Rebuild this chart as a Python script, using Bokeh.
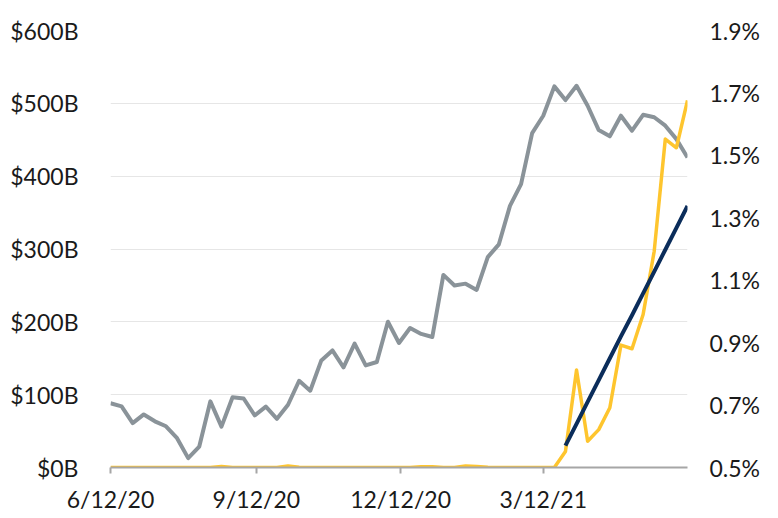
import pandas as pd
from bokeh.plotting import figure
from bokeh.models import Range1d, LinearAxis, FixedTicker, ColumnDataSource
from bokeh.embed import file_html
from bokeh.resources import INLINE

# ---- data ----
dates = list(pd.date_range("2020-06-12", periods=53, freq="7D"))

yield_pct = [0.706, 0.696, 0.642, 0.670, 0.648, 0.632, 0.594, 0.530, 0.567, 0.712,
             0.631, 0.725, 0.721, 0.667, 0.695, 0.656, 0.701, 0.778, 0.746, 0.843,
             0.875, 0.821, 0.897, 0.827, 0.838, 0.967, 0.899, 0.947, 0.928, 0.918,
             1.117, 1.083, 1.089, 1.069, 1.174, 1.215, 1.338, 1.408, 1.571, 1.627,
             1.721, 1.677, 1.723, 1.659, 1.581, 1.561, 1.627, 1.579, 1.630, 1.622,
             1.595, 1.552, 1.493]

rrp_bn = [0, 0, 0, 0, 0, 0, 0, 0, 0, 0,
          1.5, 0, 0, 0, 0, 0, 2, 0.5, 0, 0,
          0, 0, 0, 0, 0, 0, 0, 0, 1, 1,
          0, 0, 2, 1.5, 0.5, 0, 0, 0, 0, 0,
          0, 22, 134, 36, 52, 82, 168, 163, 210, 297,
          451, 439, 504]

trend_dates = dates[41:]
trend_bn = [30, 60, 90, 120, 150, 180, 209, 239, 269, 299, 329, 359]

left_ticks = [0, 100, 200, 300, 400, 500, 600]
left_labels = ["$0B", "$100B", "$200B", "$300B", "$400B", "$500B", "$600B"]
right_ticks = [0.5, 0.7, 0.9, 1.1, 1.3, 1.5, 1.7, 1.9]
right_labels = ["0.5%", "0.7%", "0.9%", "1.1%", "1.3%", "1.5%", "1.7%", "1.9%"]
x_tick_dates = ["2020-06-12", "2020-09-12", "2020-12-12", "2021-03-12"]
x_tick_labels = ["6/12/20", "9/12/20", "12/12/20", "3/12/21"]

# ---- figure ----
FONT = "Lato"
FS = "23px"
TXT = "#1a1a1a"

p = figure(width=770, height=515, x_axis_type="datetime",
           output_backend="svg", toolbar_location=None,
           x_range=Range1d(pd.Timestamp("2020-06-12"), pd.Timestamp("2021-06-11")),
           y_range=Range1d(0, 600),
           min_border_left=110, min_border_right=83,
           min_border_top=30, min_border_bottom=44)
p.outline_line_color = None
p.background_fill_color = "white"
p.extra_y_ranges = {"pct": Range1d(0.5, 1.9)}

# left axis
la = p.yaxis[0]
la.ticker = FixedTicker(ticks=left_ticks)
la.major_label_overrides = {t: l for t, l in zip(left_ticks, left_labels)}
la.axis_line_color = None
la.major_tick_line_color = None
la.minor_tick_line_color = None
la.major_tick_out = 0
la.major_tick_in = 0
la.major_label_standoff = 32
la.major_label_text_font = FONT
la.major_label_text_font_size = FS
la.major_label_text_color = TXT

# right axis
ra = LinearAxis(y_range_name="pct", ticker=FixedTicker(ticks=right_ticks))
ra.major_label_overrides = {t: l for t, l in zip(right_ticks, right_labels)}
ra.axis_line_color = None
ra.major_tick_line_color = None
ra.minor_tick_line_color = None
ra.major_tick_out = 0
ra.major_tick_in = 0
ra.major_label_standoff = 22
ra.major_label_text_font = FONT
ra.major_label_text_font_size = FS
ra.major_label_text_color = TXT
p.add_layout(ra, "right")

# bottom axis
xt = [pd.Timestamp(d).value / 1e6 for d in x_tick_dates]
xa = p.xaxis[0]
xa.ticker = FixedTicker(ticks=xt)
xa.major_label_overrides = {t: l for t, l in zip(xt, x_tick_labels)}
xa.axis_line_color = "#a6a6a6"
xa.axis_line_width = 2
xa.major_tick_line_color = "#a6a6a6"
xa.major_tick_line_width = 2
xa.major_tick_out = 6
xa.major_tick_in = 0
xa.minor_tick_line_color = None
xa.major_label_standoff = 11
xa.major_label_text_font = FONT
xa.major_label_text_font_size = FS
xa.major_label_text_color = TXT

p.xgrid.grid_line_color = None
p.ygrid.grid_line_color = "#e6e6e6"
p.ygrid.grid_line_width = 1

src = ColumnDataSource(dict(d=dates, y=yield_pct, r=rrp_bn))
p.line("d", "y", source=src, y_range_name="pct", line_color="#8a9399",
       line_width=4, line_join="round")
p.line("d", "r", source=src, line_color="#fec52e", line_width=3.5,
       line_join="round")
p.line(trend_dates, trend_bn, line_color="#0b2d5b", line_width=4,
       line_join="round")

open("out.html", "w").write(file_html(p, INLINE))
